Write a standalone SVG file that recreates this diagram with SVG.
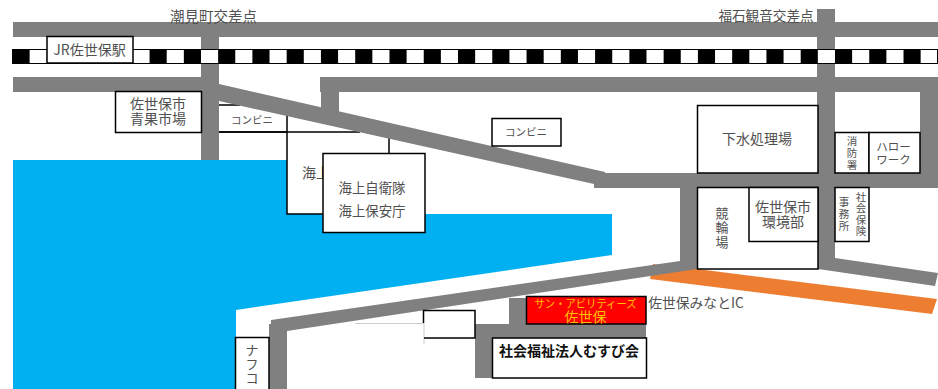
<svg xmlns="http://www.w3.org/2000/svg" width="938" height="389" viewBox="0 0 938 389">
<style>
text{font-family:"Noto Sans CJK JP","Noto Sans",sans-serif;font-size:14px;fill:#505050;text-anchor:middle}
.s{font-size:10.500px}
.m{font-size:13px}
.b{fill:#fff;stroke:#000;stroke-width:1.5}
.l{fill:none;stroke:#000;stroke-width:1.5}
.r{fill:#808080}
.y{fill:#FFC000}
</style>
<rect width="938" height="389" fill="#fff"/>
<path id="sea" fill="#00B0F0" d="M13 160H287V214H612V255L236 310V389H13Z"/>
<polygon id="expressway" fill="#ED7D31" points="653,264 697,269 937,299 932,314 650,279"/>
<g id="konbini1-shape"><path class="l" d="M240 105H218V132H360"/></g>
<g id="umi-shape"><rect x="287" y="110" width="102" height="104" fill="#fff"/><path class="l" d="M287 110V214H323M389 130V153M218 132H360"/><text x="316" y="178">海上</text></g>
<g id="roads">
<rect class="r" x="13" y="22" width="925" height="15"/>
<rect class="r" x="13" y="77" width="190" height="15"/>
<rect class="r" x="320" y="77" width="618" height="15"/>
<rect class="r" x="201" y="37" width="18" height="123"/>
<rect class="r" x="321" y="92" width="18" height="20"/>
<polygon class="r" points="219,84 605,172 605,173 938,173 938,188 594,188 594,184 219,101"/>
<rect class="r" x="817" y="9" width="18" height="250"/>
<rect class="r" x="920" y="92" width="18" height="81"/>
<polygon class="r" points="818,250 835,250 835,258 938,273 935,286 818,269"/>
<polygon class="r" points="271,320 680,261 680,188 697,188 697,269 287,331 287,389 269,389 269,324 271,324"/>
<path class="r" d="M475 324H509V298H526V324H646V338H492V378H475Z"/>
</g>
<g id="railway">
<rect x="12.500" y="49.500" width="925" height="14" fill="#fff" stroke="#000" stroke-width="1"/>
<line x1="12.500" y1="56.500" x2="921" y2="56.500" stroke="#000" stroke-width="15" stroke-dasharray="17.135 17.135"/>
</g>
<g id="label-shiomi"><text x="213.500" y="21.500" style="font-size:14.500px">潮見町交差点</text></g>
<g id="label-fukuishi"><text x="766" y="21" style="font-size:13.600px">福石観音交差点</text></g>
<g id="jr-station"><rect class="b" x="47" y="36.500" width="86" height="26.500"/><text x="89.500" y="55">JR佐世保駅</text></g>
<g id="seika"><rect class="b" x="115.500" y="91.500" width="86" height="41"/><text x="158" y="109">佐世保市<tspan x="158" dy="14.500">青果市場</tspan></text></g>
<g id="konbini1"><text class="s" x="252" y="124">コンビニ</text></g>
<g id="kaijo"><rect class="b" x="323" y="153.500" width="102" height="79"/><text x="372" y="193" style="font-size:13.400px">海上自衛隊<tspan x="372" dy="23">海上保安庁</tspan></text></g>
<g id="konbini2"><rect class="b" x="492" y="118.500" width="69" height="27.500"/><text class="s" x="526" y="136">コンビニ</text></g>
<g id="gesui"><rect class="b" x="697.500" y="105.500" width="120.500" height="67.500"/><text x="757" y="144">下水処理場</text></g>
<g id="shobo"><rect class="b" x="835" y="132.500" width="34" height="40.500"/><text class="s" x="852" y="145">消<tspan x="852" dy="12">防</tspan><tspan x="852" dy="11.500">署</tspan></text></g>
<g id="hellowork"><rect class="b" x="869" y="132.500" width="51" height="40.500"/><text x="893.500" y="151" style="font-size:11.500px">ハロー<tspan x="893.500" dy="13">ワーク</tspan></text></g>
<g id="keirin"><rect class="b" x="697.500" y="187.500" width="120.500" height="81.500"/><rect class="b" x="749" y="187.500" width="69" height="54"/><text class="m" x="722" y="218">競<tspan x="722" dy="14.300">輪</tspan><tspan x="722" dy="14.300">場</tspan></text></g>
<g id="kankyo"><text x="783" y="212">佐世保市<tspan x="783" dy="15">環境部</tspan></text></g>
<g id="shakaihoken"><rect class="b" x="835" y="187.500" width="34" height="54"/><text class="s" x="861" y="201">社<tspan x="861" dy="11">会</tspan><tspan x="861" dy="12">保</tspan><tspan x="861" dy="11">険</tspan></text><text class="s" x="844" y="206">事<tspan x="844" dy="11.500">務</tspan><tspan x="844" dy="12.500">所</tspan></text></g>
<g id="nafco"><rect class="b" x="235.500" y="337.500" width="33.500" height="54"/><text class="m" x="252" y="355">ナ<tspan x="252" dy="14">フ</tspan><tspan x="252" dy="14">コ</tspan></text></g>
<g id="small-box"><path d="M355 323.500H424V344" fill="none" stroke="#ccc"/><path class="l" d="M423.500 323V310.500H475V338H424"/></g>
<g id="sun-abilities"><rect x="526.500" y="296.500" width="119.500" height="27.500" fill="#f00" stroke="#000" stroke-width="1.500"/><text class="y" x="585.500" y="307.500" style="font-size:11.500px" textLength="102" lengthAdjust="spacingAndGlyphs">サン・アビリティーズ</text><text class="y" x="585.500" y="322">佐世保</text></g>
<g id="ic-label"><text x="696" y="308" style="font-size:13.800px">佐世保みなとIC</text></g>
<g id="musubi"><rect class="b" x="492.500" y="338" width="154" height="40"/><text x="569" y="356" style="font-weight:700;fill:#111">社会福祉法人むすび会</text></g>
</svg>
